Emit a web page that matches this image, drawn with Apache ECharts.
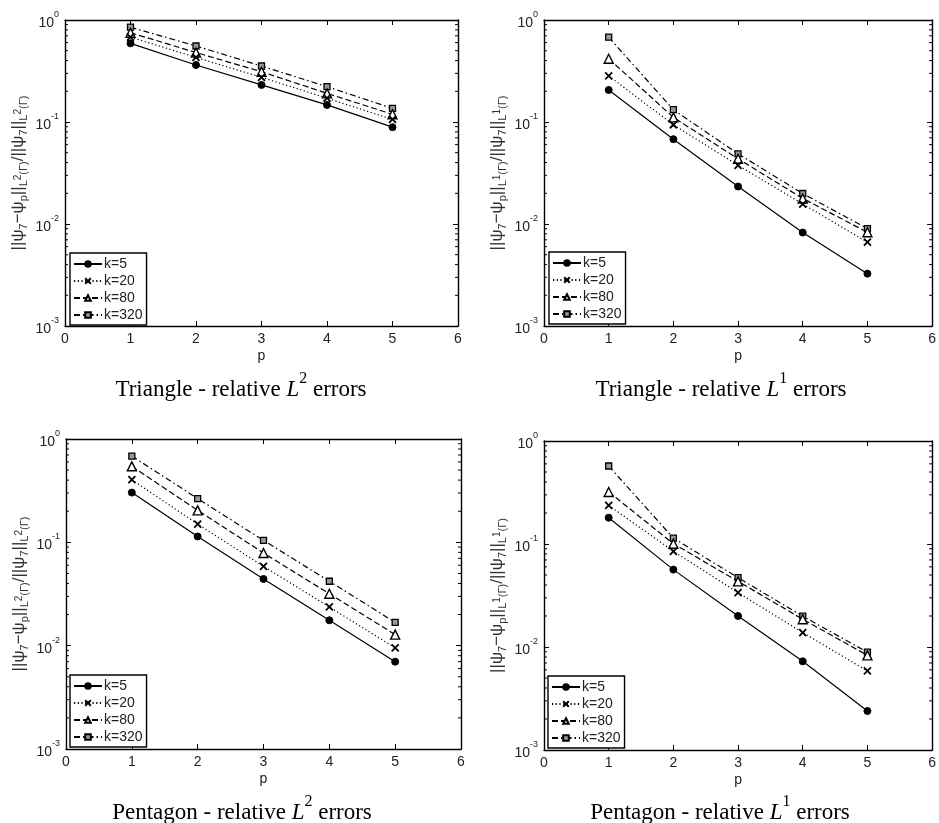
<!DOCTYPE html>
<html><head><meta charset="utf-8">
<script src="https://cdn.jsdelivr.net/npm/echarts@6/dist/echarts.min.js"></script>
<style>html,body{margin:0;padding:0;background:#fff}#c{width:939px;height:823px}</style>
</head><body><div id="c"></div>
<script>
const pValues = [1, 2, 3, 4, 5];
const seriesNames = ['k=5', 'k=20', 'k=80', 'k=320'];
const xTicks = [0, 1, 2, 3, 4, 5, 6];
const yDecades = [0.001, 0.01, 0.1, 1];

const triL2_k5   = [0.59, 0.362, 0.231, 0.147, 0.089];
const triL2_k20  = [0.68, 0.43, 0.274, 0.171, 0.106];
const triL2_k80  = [0.75, 0.48, 0.311, 0.191, 0.119];
const triL2_k320 = [0.85, 0.556, 0.354, 0.222, 0.136];

const triL1_k5   = [0.206, 0.0678, 0.0233, 0.00824, 0.00326];
const triL1_k20  = [0.283, 0.094, 0.0376, 0.0157, 0.00663];
const triL1_k80  = [0.417, 0.111, 0.0436, 0.0178, 0.0083];
const triL1_k320 = [0.678, 0.132, 0.0488, 0.0199, 0.00901];

const pentL2_k5   = [0.303, 0.114, 0.0442, 0.0176, 0.0070];
const pentL2_k20  = [0.404, 0.150, 0.0586, 0.0237, 0.0095];
const pentL2_k80  = [0.544, 0.204, 0.0788, 0.0318, 0.0128];
const pentL2_k320 = [0.684, 0.265, 0.1045, 0.042, 0.0168];

const pentL1_k5   = [0.180, 0.0564, 0.020, 0.00726, 0.00239];
const pentL1_k20  = [0.237, 0.085, 0.0337, 0.0138, 0.00585];
const pentL1_k80  = [0.32, 0.1007, 0.0434, 0.0186, 0.0083];
const pentL1_k320 = [0.572, 0.114, 0.0471, 0.0199, 0.0089];

const captions = [
  ['Triangle - relative ', '2'],
  ['Triangle - relative ', '1'],
  ['Pentagon - relative ', '2'],
  ['Pentagon - relative ', '1']
];

const panels = [
  { data: [triL2_k5, triL2_k20, triL2_k80, triL2_k320], norm: '2' },
  { data: [triL1_k5, triL1_k20, triL1_k80, triL1_k320], norm: '1' },
  { data: [pentL2_k5, pentL2_k20, pentL2_k80, pentL2_k320], norm: '2' },
  { data: [pentL1_k5, pentL1_k20, pentL1_k80, pentL1_k320], norm: '1' }
];

// layout
const grids = [
  { left: 65, top: 20, width: 393, height: 306 },
  { left: 544, top: 20, width: 393, height: 306 },
  { left: 66, top: 439, width: 395, height: 310 },
  { left: 544, top: 441, width: 393, height: 309 }
];
const legendPos = [
  { left: 70, top: 253 },
  { left: 549, top: 252 },
  { left: 70, top: 675 },
  { left: 548, top: 676 }
];
const captionPos = [[241, 386], [721, 386], [242, 809], [720, 809]];

const minorVals = [];
for (let d = 0; d < 3; d++) {
  for (let m = 2; m <= 9; m++) minorVals.push(m * yDecades[d]);
}

const FONT = 'Liberation Sans';
const lineTypes = ['solid', [1.2, 2.5], [6, 3], [6, 3, 1.5, 3]];
const symbols = [
  'circle',
  'path://M0,0 L10,10 M10,0 L0,10',
  'triangle',
  'rect'
];
const symbolSizes = [7, 7, 9, 6];
const symbolStyles = [
  { color: '#000', borderColor: '#000', borderWidth: 1 },
  { color: 'none', borderColor: '#000', borderWidth: 1.8 },
  { color: '#fff', borderColor: '#000', borderWidth: 1.4 },
  { color: '#999', borderColor: '#000', borderWidth: 1.3 }
];

function yName(n) {
  return '{n|||ψ}{d|7}{n|−ψ}{d|p}{n|||}{d|L}{u|' + n + '}{d|(Γ)}{n|/||ψ}{d|7}{n|||}{d|L}{u|' + n + '}{d|(Γ)}';
}

const xAxis = [], yAxis = [], series = [], legend = [], grid = [], graphic = [];

grids.forEach((g, gi) => {
  grid.push(Object.assign({ containLabel: false }, g));
  xAxis.push({
    type: 'value', gridIndex: gi, min: 0, max: 6, interval: 1, position: 'bottom',
    name: 'p', nameLocation: 'middle', nameGap: 23,
    nameTextStyle: { fontFamily: FONT, fontSize: 14, color: '#222' },
    axisLine: { show: true, onZero: false, lineStyle: { color: '#000', width: 1.4 } },
    axisTick: { show: true, inside: true, length: 5, lineStyle: { color: '#000' } },
    axisLabel: { fontFamily: FONT, fontSize: 14, color: '#222', margin: 6,
      formatter: v => xTicks.indexOf(v) >= 0 ? String(v) : '' },
    splitLine: { show: false }
  });
  xAxis.push({
    type: 'value', gridIndex: gi, min: 0, max: 6, interval: 1, position: 'top',
    axisLine: { show: true, onZero: false, lineStyle: { color: '#000', width: 1.4 } },
    axisTick: { show: true, inside: true, length: 5, lineStyle: { color: '#000' } },
    axisLabel: { show: false }, splitLine: { show: false }
  });
  yAxis.push({
    type: 'log', logBase: 10, gridIndex: gi, min: 0.001, max: 1, position: 'left',
    name: yName(panels[gi].norm), nameLocation: 'middle', nameRotate: 90, nameGap: 36,
    nameTextStyle: {
      color: '#333', fontFamily: FONT,
      rich: {
        n: { fontSize: 17, fontFamily: FONT, color: '#333', lineHeight: 22, verticalAlign: 'middle' },
        d: { fontSize: 11, fontFamily: FONT, color: '#333', lineHeight: 12, verticalAlign: 'bottom' },
        u: { fontSize: 10, fontFamily: FONT, color: '#333', lineHeight: 12, verticalAlign: 'middle' }
      }
    },
    axisLine: { show: true, onZero: false, lineStyle: { color: '#000', width: 1.4 } },
    axisTick: { show: true, inside: true, length: 5, lineStyle: { color: '#000' } },
    axisLabel: {
      margin: 6, color: '#222',
      formatter: v => '{b|10}{s|' + Math.round(Math.log10(v)) + '}',
      rich: {
        b: { fontFamily: FONT, fontSize: 14, color: '#222', lineHeight: 20, verticalAlign: 'bottom' },
        s: { fontFamily: FONT, fontSize: 9, color: '#222', lineHeight: 12, verticalAlign: 'top' }
      }
    },
    splitLine: { show: false }
  });
  yAxis.push({
    type: 'log', logBase: 10, gridIndex: gi, min: 0.001, max: 1, position: 'right',
    axisLine: { show: true, onZero: false, lineStyle: { color: '#000', width: 1.4 } },
    axisTick: { show: true, inside: true, length: 5, lineStyle: { color: '#000' } },
    axisLabel: { show: false }, splitLine: { show: false }
  });

  series.push({
    type: 'custom', xAxisIndex: gi * 2, yAxisIndex: gi * 2, silent: true,
    data: minorVals.map(v => [0, v]),
    renderItem: (params, api) => {
      const a = api.coord([0, api.value(1)]);
      const b = api.coord([6, api.value(1)]);
      return { type: 'group', children: [
        { type: 'line', shape: { x1: a[0], y1: a[1], x2: a[0] + 3, y2: a[1] }, style: { stroke: '#000', lineWidth: 1 } },
        { type: 'line', shape: { x1: b[0] - 3, y1: b[1], x2: b[0], y2: b[1] }, style: { stroke: '#000', lineWidth: 1 } }
      ] };
    },
    z: 1
  });

  panels[gi].data.forEach((vals, si) => {
    series.push({
      name: seriesNames[si], type: 'line', xAxisIndex: gi * 2, yAxisIndex: gi * 2,
      data: pValues.map((p, i) => [p, vals[i]]),
      symbol: symbols[si], symbolSize: symbolSizes[si], showSymbol: true,
      lineStyle: { color: '#000', width: 1.2, type: lineTypes[si] },
      itemStyle: symbolStyles[si],
      emphasis: { disabled: true }, animation: false, z: 3 + (3 - si)
    });
  });

  legend.push({
    data: seriesNames, orient: 'vertical', left: legendPos[gi].left, top: legendPos[gi].top,
    backgroundColor: '#fff', borderColor: '#000', borderWidth: 1.4, borderRadius: 0,
    padding: [4, 4, 3, 3], itemGap: 3, itemWidth: 28, itemHeight: 7,
    textStyle: { fontFamily: FONT, fontSize: 14, color: '#222', padding: [0, 0, 0, -3] },
    selectedMode: false, z: 10
  });

  graphic.push({
    type: 'text', x: captionPos[gi][0], y: captionPos[gi][1],
    style: {
      text: '{r|' + captions[gi][0] + '}{i|L}{s|' + captions[gi][1] + '}{r| errors}',
      align: 'center', verticalAlign: 'middle',
      rich: {
        r: { fontFamily: 'Liberation Serif', fontSize: 23, fill: '#000', lineHeight: 30, verticalAlign: 'bottom' },
        i: { fontFamily: 'Liberation Serif', fontStyle: 'italic', fontSize: 23, fill: '#000', lineHeight: 30, verticalAlign: 'bottom' },
        s: { fontFamily: 'Liberation Serif', fontSize: 16, fill: '#000', lineHeight: 22, verticalAlign: 'top' }
      }
    }
  });
});

const chart = echarts.init(document.getElementById('c'), null, { renderer: 'canvas' });
chart.setOption({ animation: false, grid, xAxis, yAxis, series, legend, graphic });
</script>
</body></html>
